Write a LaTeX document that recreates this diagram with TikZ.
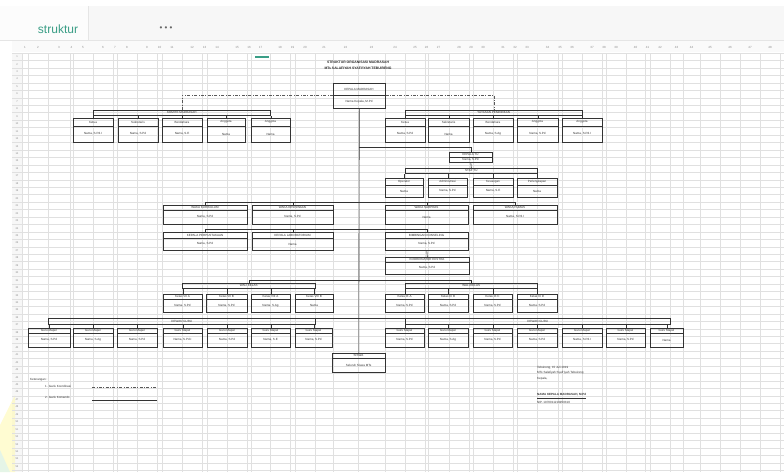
\documentclass[tikz,border=0pt]{standalone}
\usepackage{fontspec}
\setmainfont{Liberation Sans}
\usetikzlibrary{calc}
\definecolor{tealg}{HTML}{3A9E86}
\tikzset{
 obx/.style={draw=black!80, line width=0.6pt, inner sep=0pt, anchor=north west},
 con/.style={draw=black!80, line width=0.6pt},
 coordline/.style={draw=black!65, line width=0.55pt, dash pattern=on 3pt off 1.5pt on 0.8pt off 1.5pt},
 tx/.style={font=\fontsize{3}{3.4}\selectfont, text=black!80, inner sep=0pt},
 gridln/.style={draw=black!12, line width=0.3pt},
 hdr/.style={font=\fontsize{3}{3.4}\selectfont, text=black!45, inner sep=0pt},
}
\newcommand\obox[8]{%
 \node[obx, minimum width={(#4-#2)*1pt}, minimum height={(#5-#3)*1pt}] (#1) at (#2,#3) {};
 \draw[con] (#2,#6) -- (#4,#6);
 \node[tx] at ({(#2+#4)/2},{(#3+#6)/2}) {#7};
 \node[tx] at ({(#2+#4)/2},{(#6+#5)/2}) {#8};
}
\newcommand\obar[6]{%
 \node[obx, minimum width={(#4-#2)*1pt}, minimum height={(#5-#3)*1pt}] (#1) at (#2,#3) {};
 \node[tx] at (#1.center) {#6};
}
\begin{document}
\begin{tikzpicture}[x=1pt,y=-1pt]
\useasboundingbox (0,0) rectangle (784,472);
\fill[white] (0,0) rectangle (784,472);
% top bar
\fill[black!3] (0,6) rectangle (784,40);
\fill[black!1] (0,6) rectangle (88,40);
\draw[black!10, line width=0.4pt] (88,6) -- (88,40);
\draw[black!10, line width=0.4pt] (0,40) -- (784,40);
\node[font=\fontsize{12}{12}\selectfont, text=tealg] at (58,29) {struktur};
\node[font=\fontsize{8}{8}\selectfont, text=black!60] at (166,29) {• • •};
% column header band
\fill[black!2] (12,41) rectangle (784,52);
\fill[black!3] (12,53) rectangle (22,472);
% watermark
\fill[yellow!35, opacity=0.5] (15,395) -- (15,472) -- (0,472) -- (0,425) -- cycle;
\fill[cyan!20, opacity=0.5] (0,450) -- (10,472) -- (0,472) -- cycle;
% grid
\foreach \x in {22,28,48,70,73,93,113,117,137,157,162,182,202,207,227,247,251,270,290,295,315,333,358,385,405,425,428,449,469,473,493,513,517,537,558,562,582,602,606,626,645,650,670,683,700,720,740,760,780}
  {\draw[gridln] (\x,53) -- (\x,472);}
\foreach \y in {53,60.45,...,472}
  {\draw[gridln] (12,\y) -- (784,\y);}
\foreach \x [count=\i] in {25,38,59,71.5,83,103,115,127,147,159.5,172,192,204.5,217,237,249,260.5,280,292.5,305,324,345.5,371.5,395,415,426.5,438.5,459,471,483,503,515,527,547.5,560,572,592,604,616,635.5,647.5,660,676.5,691.5,710,730,750,770}
  {\node[hdr] at (\x,47) {\i};}
\foreach \y [count=\i] in {56.7,64.2,71.6,79.1,86.5,94,101.4,108.9,116.3,123.8,131.2,138.7,146.1,153.6,161,168.5,175.9,183.4,190.8,198.3,205.7,213.2,220.6,228.1,235.5,243,250.4,257.9,265.3,272.8,280.2,287.7,295.1,302.6,310,317.5,324.9,332.4,339.8,347.3,354.7,362.2,369.6,377.1,384.5,392,399.4,406.9,414.3,421.8,429.2,436.7,444.1,451.6,459,466.5}
  {\node[hdr, font=\fontsize{2.6}{3}\selectfont] at (17,\y) {\i};}
\fill[tealg] (255,55.5) rectangle (269,58);

% title
\node[tx, font=\bfseries\fontsize{3.4}{4}\selectfont, text=black!85] at (358,62) {STRUKTUR ORGANISASI MADRASAH};
\node[tx, font=\bfseries\fontsize{3.4}{4}\selectfont, text=black!85] at (358,68) {MTs SALAFIYAH SYAFI'IYAH TEBUIRENG};

% top
\obox{T}{333}{83}{385}{108}{95}{KEPALA MADRASAH}{Nama Kepala, M.Pd}
% left group
\obar{LG}{93}{110}{270}{115}{KOMITE MADRASAH}
\obox{L1}{73}{118}{113}{142}{126}{Ketua}{Nama, S.Pd.I}
\obox{L2}{118}{118}{158}{142}{126}{Sekretaris}{Nama, S.Pd}
\obox{L3}{162}{118}{202}{142}{126}{Bendahara}{Nama, S.E}
\obox{L4}{207}{118}{245}{142}{126}{Anggota}{Nama}
\obox{L5}{251}{118}{290}{142}{126}{Anggota}{Nama}
% right group
\obar{RG}{405}{110}{582}{115}{YAYASAN PENDIDIKAN}
\obox{R1}{385}{118}{425}{142}{126}{Ketua}{Nama, S.Pd}
\obox{R2}{428}{118}{469}{142}{126}{Sekretaris}{Nama}
\obox{R3}{473}{118}{513}{142}{126}{Bendahara}{Nama, S.Ag}
\obox{R4}{517}{118}{558}{142}{126}{Anggota}{Nama, S.Pd}
\obox{R5}{562}{118}{602}{142}{126}{Anggota}{Nama, S.Pd.I}
% TU
\obox{M}{449}{152}{492}{162}{157}{KEPALA TU}{Nama, S.Pd}
\obar{MB}{405}{168}{537}{173}{STAF TU}
\obox{M1}{385}{178}{423}{197}{185}{Operator}{Nama}
\obox{M2}{428}{178}{467}{197}{185}{Administrasi}{Nama, S.Pd}
\obox{M3}{473}{178}{513}{197}{185}{Keuangan}{Nama, S.E}
\obox{M4}{517}{178}{557}{197}{185}{Perlengkapan}{Nama}
% waka
\obox{A}{163}{205}{247}{224}{210}{WAKA KURIKULUM}{Nama, S.Pd}
\obox{B}{252}{205}{333}{224}{210}{WAKA KESISWAAN}{Nama, S.Pd}
\obox{C}{385}{205}{468}{224}{210}{WAKA SARPRAS}{Nama}
\obox{D}{473}{205}{557}{224}{210}{WAKA HUMAS}{Nama, S.Pd.I}
\obox{A2}{163}{232}{247}{250}{238}{KEPALA PERPUSTAKAAN}{Nama, S.Pd}
\obox{B2}{252}{232}{333}{250}{238}{KEPALA LABORATORIUM}{Nama}
\obox{C2}{385}{232}{468}{250}{238}{BIMBINGAN KONSELING}{Nama, S.Pd}
\obox{C3}{385}{257}{469}{274}{262}{KOORDINATOR EKSTRA}{Nama, S.Pd}
% wali kelas
\obar{LS}{182}{283}{315}{288}{WALI KELAS}
\obox{LS1}{163}{294}{202}{312}{299}{Kelas VII A}{Nama, S.Pd}
\obox{LS2}{206}{294}{247}{312}{299}{Kelas VII B}{Nama, S.Pd}
\obox{LS3}{251}{294}{290}{312}{299}{Kelas VIII A}{Nama, S.Ag}
\obox{LS4}{295}{294}{333}{312}{299}{Kelas VIII B}{Nama}
\obar{RS}{405}{283}{537}{288}{WALI KELAS}
\obox{RS1}{385}{294}{424}{312}{299}{Kelas IX A}{Nama, S.Pd}
\obox{RS2}{428}{294}{468}{312}{299}{Kelas IX B}{Nama, S.Pd}
\obox{RS3}{473}{294}{512}{312}{299}{Kelas IX C}{Nama, S.Pd}
\obox{RS4}{517}{294}{557}{312}{299}{Kelas IX D}{Nama, S.Pd}
% dewan guru
\obar{BL}{48}{318}{315}{324}{DEWAN GURU}
\obox{G1}{28}{328}{70}{347}{333}{Guru Mapel}{Nama, S.Pd}
\obox{G2}{73}{328}{113}{347}{333}{Guru Mapel}{Nama, S.Ag}
\obox{G3}{117}{328}{157}{347}{333}{Guru Mapel}{Nama, S.Pd}
\obox{G4}{163}{328}{202}{347}{333}{Guru Mapel}{Nama, S.Pd.I}
\obox{G5}{207}{328}{247}{347}{333}{Guru Mapel}{Nama, S.Pd}
\obox{G6}{251}{328}{290}{347}{333}{Guru Mapel}{Nama, S.E}
\obox{G7}{295}{328}{332}{347}{333}{Guru Mapel}{Nama, S.Pd}
\obar{BR}{405}{318}{670}{324}{DEWAN GURU}
\obox{H1}{385}{328}{424}{347}{333}{Guru Mapel}{Nama, S.Pd}
\obox{H2}{428}{328}{468}{347}{333}{Guru Mapel}{Nama, S.Ag}
\obox{H3}{473}{328}{512}{347}{333}{Guru Mapel}{Nama, S.Pd}
\obox{H4}{517}{328}{557}{347}{333}{Guru Mapel}{Nama, S.Pd}
\obox{H5}{562}{328}{602}{347}{333}{Guru Mapel}{Nama, S.Pd.I}
\obox{H6}{606}{328}{645}{347}{333}{Guru Mapel}{Nama, S.Pd}
\obox{H7}{650}{328}{683}{347}{333}{Guru Mapel}{Nama}
% siswa
\obox{BOT}{332}{353}{385}{372}{358}{SISWA}{Seluruh Siswa MTs}

% connectors
\draw[con] (T.south) -- (BOT.north);
\draw[coordline] (T.west |- 0,95) -| (LG.north);
\draw[coordline] (T.east |- 0,95) -| (RG.north);
\foreach \n in {L1,L2,L3,L4,L5} {\draw[con] (\n.north) -- (\n.north |- LG.south);}
\foreach \n in {R1,R2,R3,R4,R5} {\draw[con] (\n.north) -- (\n.north |- RG.south);}
\draw[con] (T.south |- 0,147) -| (M.north);
\draw[con] (M.south) -- (MB.north);
\foreach \n in {M1,M2,M3,M4} {\draw[con] (\n.north) -- (\n.north |- MB.south);}
\draw[con] (A.north) -- ++(0,-3) -| (D.north);
\draw[con] (B.north) -- ++(0,-3);
\draw[con] (C.north) -- ++(0,-3);
\draw[con] (A2.north) -- ++(0,-3) -| (C2.north);
\draw[con] (B2.north) -- ++(0,-3);
\draw[con] (C2.south) -- (C3.north);
\draw[con] (LS.north) -- ++(0,-3) -| (RS.north);
\foreach \n in {LS1,LS2,LS3,LS4} {\draw[con] (\n.north) -- (\n.north |- LS.south);}
\foreach \n in {RS1,RS2,RS3,RS4} {\draw[con] (\n.north) -- (\n.north |- RS.south);}
\draw[con] (BL.north east) -- (BR.north west);
\foreach \n in {G1,G2,G3,G4,G5,G6,G7} {\draw[con] (\n.north) -- (\n.north |- BL.south);}
\foreach \n in {H1,H2,H3,H4,H5,H6,H7} {\draw[con] (\n.north) -- (\n.north |- BR.south);}

% legend
\node[tx, anchor=west] at (30,380) {Keterangan :};
\node[tx, anchor=west] at (45,386) {1. Garis Koordinasi};
\node[tx, anchor=west] at (45,397.5) {2. Garis Komando};
\draw[coordline] (92,387.5) -- (157,387.5);
\draw[con, line width=0.7pt] (92,400) -- (157,400);
% signature
\node[tx, anchor=west] at (537,368) {Tebuireng, 15 Juli 2019};
\node[tx, anchor=west] at (537,373) {MTs Salafiyah Syafi'iyah Tebuireng};
\node[tx, anchor=west] at (537,379) {Kepala,};
\node[tx, anchor=west, font=\bfseries\fontsize{3}{3.4}\selectfont] at (537,396) {\underline{NAMA KEPALA MADRASAH, M.Pd}};
\node[tx, anchor=west] at (537,402) {NIP. 1970011219950310};
\end{tikzpicture}
\end{document}
